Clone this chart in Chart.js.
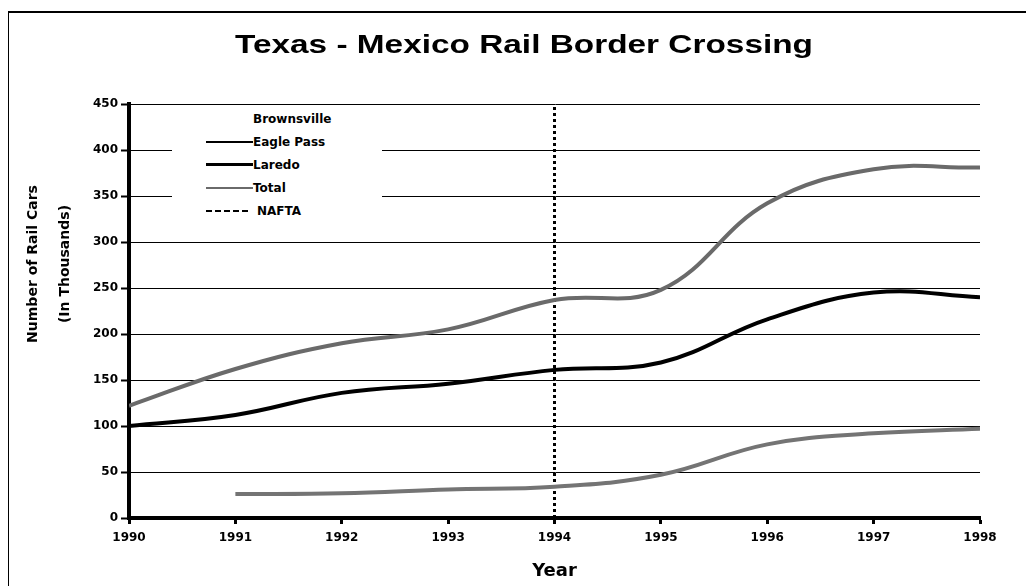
<!DOCTYPE html>
<html>
<head>
<meta charset="utf-8">
<title>Texas - Mexico Rail Border Crossing</title>
<script src="https://cdn.jsdelivr.net/npm/chart.js@4"></script>
<style>
  html, body { margin: 0; padding: 0; background: #fff; }
  #wrap { position: relative; width: 1026px; height: 586px; }
  #frame { position: absolute; left: 8px; top: 11px; right: -10px; bottom: -10px;
           border-left: 1px solid #000; border-top: 2px solid #000; pointer-events: none; }
  #legend { position: absolute; left: 172px; top: 107px; width: 210px; background: #fff;
            font: bold 12px "DejaVu Sans", sans-serif; color: #000; }
  #legend .item { display: flex; align-items: center; height: 23px; }
  #legend .swatch { width: 47px; margin-left: 34px; height: 0; }
  #legend .swatch.dash { width: 42px; margin-right: 9px; }
</style>
</head>
<body>
<div id="wrap">
  <canvas id="chart"></canvas>
  <div id="frame"></div>
  <div id="legend"></div>
</div>
<script>
// Data (thousands of rail cars)
const years = [1990, 1991, 1992, 1993, 1994, 1995, 1996, 1997, 1998];
const brownsville = [];
const eaglePass = [null, 26, 27, 31, 34, 47, 80, 92, 97];
const laredo = [100, 112, 136, 146, 161, 169, 216, 245, 240];
const total = [122, 162, 190, 205, 237, 248, 342, 379, 381];
const naftaYear = 1994;
const naftaRange = [0, 450];
const yTicks = [0, 50, 100, 150, 200, 250, 300, 350, 400, 450];

const chartTitle = 'Texas - Mexico Rail Border Crossing';
const yTitleLines = ['Number of Rail Cars', '(In Thousands)'];
const xTitle = 'Year';

const FONT = '"DejaVu Sans", sans-serif';
Chart.defaults.font.family = FONT;
Chart.defaults.color = '#000';

function toPoints(values) {
  return years.map((y, i) => ({ x: y, y: values[i] === undefined ? null : values[i] }));
}

// Titles drawn by hand: the main one is wide and stretched in the original,
// the y one is two lines sitting a bit above the plot middle
const titlesPlugin = {
  id: 'titles',
  afterDraw(chart) {
    const ctx = chart.ctx;
    ctx.save();
    ctx.font = 'bold 26px "Liberation Sans", Arial, sans-serif';
    ctx.fillStyle = '#000';
    ctx.textAlign = 'center';
    ctx.textBaseline = 'alphabetic';
    const w = ctx.measureText(chartTitle).width;
    ctx.translate(524, 53);
    ctx.scale(578 / w, 1);
    ctx.fillText(chartTitle, 0, 0);
    ctx.restore();

    ctx.save();
    ctx.translate(49, 264);
    ctx.rotate(-Math.PI / 2);
    ctx.font = 'bold 14px ' + FONT;
    ctx.fillStyle = '#000';
    ctx.textAlign = 'center';
    ctx.textBaseline = 'middle';
    ctx.fillText(yTitleLines[0], 0, -16);
    ctx.fillText(yTitleLines[1], 0, 16);
    ctx.restore();
  }
};

const ctx = document.getElementById('chart');
const chart = new Chart(ctx, {
  type: 'line',
  data: {
    datasets: [
      {
        label: 'Brownsville',
        data: brownsville,
        borderColor: 'rgba(0,0,0,0)',
        borderWidth: 0
      },
      {
        label: 'Eagle Pass',
        data: toPoints(eaglePass),
        borderColor: '#747474',
        borderWidth: 4,
        legendColor: '#000',
        legendWidth: 2
      },
      {
        label: 'Laredo',
        data: toPoints(laredo),
        borderColor: '#000',
        borderWidth: 4,
        legendWidth: 3
      },
      {
        label: 'Total',
        data: toPoints(total),
        borderColor: '#6a6a6a',
        borderWidth: 4,
        legendWidth: 2
      },
      {
        label: 'NAFTA',
        data: naftaRange.map(v => ({ x: naftaYear, y: v })),
        borderColor: '#000',
        borderWidth: 3,
        borderDash: [3, 3],
        tension: 0,
        legendWidth: 2
      }
    ]
  },
  options: {
    responsive: true,
    maintainAspectRatio: false,
    animation: false,
    layout: { padding: { left: 68, right: 46, top: 104, bottom: 0 } },
    elements: {
      point: { radius: 0 },
      line: { tension: 0.4, fill: false }
    },
    plugins: {
      legend: { display: false },
      tooltip: { enabled: false },
      title: { display: false }
    },
    scales: {
      x: {
        type: 'linear',
        min: years[0],
        max: years[years.length - 1],
        afterFit: scale => { scale.height = 68; },
        border: { display: true, color: '#000', width: 4 },
        grid: { drawOnChartArea: false, drawTicks: true, tickLength: 6, tickWidth: 3, tickColor: '#000' },
        ticks: {
          stepSize: 1,
          autoSkip: false,
          maxRotation: 0,
          padding: 7,
          font: { size: 12, weight: 'bold' },
          callback: v => String(v)
        },
        title: {
          display: true,
          text: xTitle,
          font: { size: 18, weight: 'bold' },
          padding: { top: 4, bottom: 4 }
        }
      },
      y: {
        min: naftaRange[0],
        max: naftaRange[1],
        afterFit: scale => { scale.width = 61; },
        afterBuildTicks: scale => { scale.ticks = yTicks.map(v => ({ value: v })); },
        border: { display: true, color: '#000', width: 4 },
        grid: { color: '#000', lineWidth: 1, drawTicks: true, tickLength: 8, tickWidth: 2, tickColor: '#000' },
        ticks: {
          padding: 3,
          font: { size: 12, weight: 'bold' }
        }
      }
    }
  },
  plugins: [titlesPlugin]
});

// Legend box inside the plot, built from the datasets
const legendEl = document.getElementById('legend');
chart.data.datasets.forEach(ds => {
  const item = document.createElement('div');
  item.className = 'item';
  const swatch = document.createElement('span');
  swatch.className = 'swatch' + (ds.borderDash ? ' dash' : '');
  const w = ds.legendWidth || 0;
  const c = ds.legendColor || ds.borderColor;
  swatch.style.borderTop = w ? `${w}px ${ds.borderDash ? 'dashed' : 'solid'} ${c}` : 'none';
  if (!w) swatch.style.height = '1px';
  const text = document.createElement('span');
  text.textContent = ds.label;
  item.appendChild(swatch);
  item.appendChild(text);
  legendEl.appendChild(item);
});
</script>
</body>
</html>
